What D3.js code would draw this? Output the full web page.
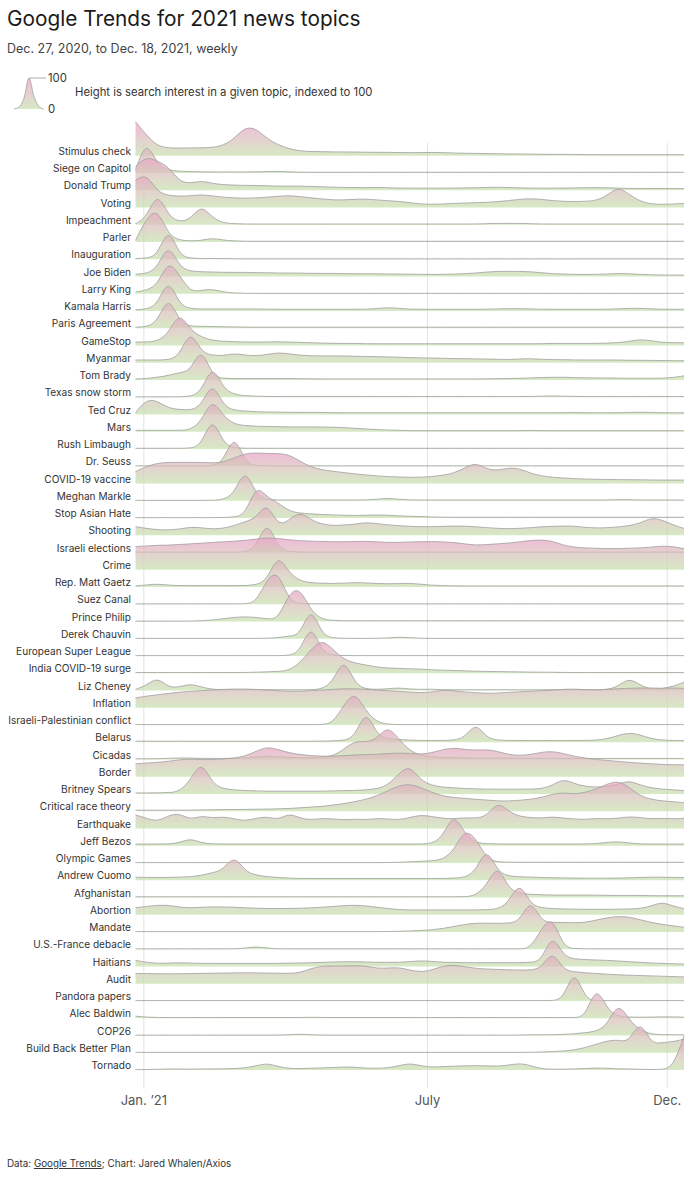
<!DOCTYPE html>
<html><head><meta charset="utf-8">
<script src="https://cdn.jsdelivr.net/npm/d3@7"></script>
<style>
body{margin:0;background:#fff;font-family:Inter,"Noto Sans",sans-serif;}
svg text{font-family:Inter,"Noto Sans",sans-serif;}
</style>
</head><body>
<svg id="chart" width="700" height="1182"></svg>
<script>
// ---------------- DATA ----------------
const topics = ["Stimulus check","Siege on Capitol","Donald Trump","Voting","Impeachment","Parler","Inauguration","Joe Biden","Larry King","Kamala Harris","Paris Agreement","GameStop","Myanmar","Tom Brady","Texas snow storm","Ted Cruz","Mars","Rush Limbaugh","Dr. Seuss","COVID-19 vaccine","Meghan Markle","Stop Asian Hate","Shooting","Israeli elections","Crime","Rep. Matt Gaetz","Suez Canal","Prince Philip","Derek Chauvin","European Super League","India COVID-19 surge","Liz Cheney","Inflation","Israeli-Palestinian conflict","Belarus","Cicadas","Border","Britney Spears","Critical race theory","Earthquake","Jeff Bezos","Olympic Games","Andrew Cuomo","Afghanistan","Abortion","Mandate","U.S.-France debacle","Haitians","Audit","Pandora papers","Alec Baldwin","COP26","Build Back Better Plan","Tornado"];

// weekly search interest, 51 weeks from Dec. 27, 2020
const stimulusCheck = [100,60,28,23,22,23,23,24,30,50, 85,80,50,32,20,14,12,12,11,11, 11,10,10,10,9,9,9,10,9,8, 7,7,6,6,5,5,5,4,4,4, 4,3,3,3,3,3,3,3,3,3,3];
const siegeOnCapitol = [8,100,22,8,5,4,3,3,3,3, 3,3,4,5,3,2,2,2,2,2, 2,2,2,2,2,2,2,2,2,2, 2,2,2,2,2,2,2,2,2,2, 2,2,2,2,2,2,2,2,2,2,2];
const donaldTrump = [70,100,85,70,25,20,28,20,16,15, 14,14,13,12,12,12,11,10,9,8, 8,7,9,7,6,6,6,6,6,6, 7,7,8,9,8,7,6,6,6,6, 7,7,8,7,6,5,5,5,5,5,5];
const voting = [80,100,45,35,33,34,38,34,30,28, 27,28,30,33,35,32,28,25,22,22, 24,25,22,20,18,14,10,9,10,12, 13,14,15,17,20,24,26,24,20,18, 17,18,20,35,62,38,18,10,9,10,12];
const impeachment = [3,20,100,25,8,15,60,20,5,3, 2,2,2,2,2,2,2,2,2,2, 2,2,2,2,2,2,2,2,2,2, 2,2,3,4,4,4,3,2,2,2, 2,2,2,2,2,2,2,2,2,2,2];
const parler = [5,70,100,20,5,3,4,12,5,3, 2,2,2,2,2,2,2,2,2,2, 2,2,2,2,2,2,2,2,2,2, 2,2,2,2,2,2,2,2,2,2, 2,2,2,2,2,2,2,2,2,2,2];
const inauguration = [2,3,10,100,10,3,2,2,2,1, 1,1,1,1,1,1,1,1,1,1, 1,1,1,1,1,1,1,1,1,1, 1,1,1,1,1,1,1,1,1,1, 1,1,1,1,1,1,1,1,1,1,1];
const joeBiden = [7,8,25,100,28,15,14,13,12,12, 12,11,11,10,10,10,9,9,9,8, 8,8,8,7,7,7,6,6,6,7, 8,10,13,15,15,15,14,11,8,7, 6,6,6,7,9,8,6,5,4,4,4];
const larryKing = [5,10,25,100,55,5,10,14,5,2, 1,1,1,1,1,1,1,1,1,1, 1,1,1,1,1,1,1,1,1,1, 1,1,1,1,1,1,1,1,1,1, 1,1,1,1,1,1,1,1,1,1,1];
const kamalaHarris = [4,5,18,100,18,6,6,6,6,6, 6,6,5,5,5,5,5,5,5,5, 5,5,7,10,8,5,5,5,5,5, 5,5,5,6,7,7,6,5,5,5, 5,5,5,5,6,8,8,6,5,5,5];
const parisAgreement = [3,4,18,100,18,5,6,5,4,4, 3,3,3,3,3,3,3,3,3,3, 3,3,3,3,3,3,3,3,3,3, 3,3,3,3,3,3,3,3,3,3, 3,3,3,3,3,3,3,3,3,3,3];
const gameStop = [10,10,12,35,100,45,25,15,12,11, 10,10,10,11,10,9,8,7,6,6, 6,5,5,5,5,5,5,5,5,5, 5,5,5,5,5,5,5,5,6,6, 6,6,6,7,8,12,18,14,9,8,8];
const myanmar = [8,8,8,8,20,100,30,22,20,28, 22,20,24,30,26,22,20,20,20,20, 19,18,18,17,16,15,14,14,13,12, 12,11,11,10,9,11,12,10,9,9, 8,8,8,8,8,7,7,7,6,6,6];
const tomBrady = [3,4,8,13,22,25,100,10,5,4, 4,4,4,4,4,4,3,3,3,3, 3,3,3,3,3,3,3,3,3,3, 3,3,3,4,4,5,6,7,8,8, 7,6,6,6,5,5,5,5,5,7,12];
const texasSnowStorm = [1,1,1,1,1,2,15,100,25,8, 4,3,2,2,2,2,2,2,2,2, 2,2,2,2,2,2,2,2,2,2, 2,2,2,2,2,2,2,3,4,3, 2,2,2,2,2,2,2,2,2,2,2];
const tedCruz = [5,45,40,18,15,12,25,100,25,12, 10,8,7,7,6,6,6,6,5,5, 5,5,5,5,5,5,5,5,5,5, 5,5,5,5,5,5,5,5,5,5, 6,5,5,5,5,6,7,6,5,5,5];
const mars = [4,4,4,4,4,5,30,100,45,22, 18,16,15,15,14,14,14,14,13,12, 10,8,6,5,4,3,3,3,3,3, 3,3,3,3,3,3,4,3,3,3, 3,3,3,3,3,3,3,3,3,3,3];
const rushLimbaugh = [2,2,2,2,2,2,10,100,15,3, 2,2,2,2,2,2,2,2,2,2, 2,2,2,2,2,2,2,2,2,2, 2,2,2,2,2,2,2,2,2,2, 2,2,2,2,2,2,2,2,2,2,2];
const drSeuss = [1,1,1,1,1,1,1,1,12,100, 8,2,1,1,1,1,1,1,1,1, 1,1,1,1,1,1,1,1,1,1, 1,1,1,1,1,1,1,1,1,1, 1,1,1,1,1,1,1,1,1,1,1];
const covidVaccine = [35,50,60,62,62,62,62,60,62,75, 88,90,88,88,85,65,48,40,36,32, 28,25,22,20,19,18,18,20,24,30, 45,62,42,38,46,44,30,22,18,16, 14,13,12,12,11,11,11,10,10,10,10];
const meghanMarkle = [1,1,1,1,1,1,1,1,3,20, 100,15,3,2,2,2,2,2,2,2, 2,2,4,8,4,2,2,2,2,2, 2,2,2,2,2,2,2,2,2,2, 2,2,2,2,3,3,2,2,2,2,2];
const stopAsianHate = [1,1,1,1,1,1,1,1,1,3, 8,100,60,45,20,14,12,10,9,8, 7,8,9,8,6,5,4,3,2,2, 2,2,2,2,2,2,2,2,2,2, 2,2,2,2,2,2,2,2,2,2,2];
const shooting = [25,20,16,15,18,24,22,18,20,28, 40,50,100,25,45,70,45,32,28,30, 32,38,34,30,28,26,25,25,26,27, 27,25,22,20,19,20,22,25,26,27, 27,23,21,22,24,28,35,52,45,30,20];
const israeliElections = [1,1,1,1,1,1,1,1,1,1, 1,15,100,12,3,1,1,1,1,1, 1,1,1,1,1,1,1,1,1,1, 1,1,1,1,1,1,1,1,1,1, 1,1,1,1,1,1,1,1,1,1,1];
const crime = [68,70,72,72,74,76,78,80,82,84, 86,90,94,92,88,85,84,83,82,82, 83,84,82,80,80,82,82,83,82,80, 76,72,74,76,78,82,86,88,84,72, 66,64,63,62,62,63,64,66,70,68,62];
const mattGaetz = [3,6,9,5,4,4,4,4,4,4, 4,6,20,100,40,18,12,11,10,11, 13,12,10,9,10,11,8,5,4,3, 3,3,3,3,3,3,3,3,3,3, 3,3,3,3,3,3,3,3,3,3,3];
const suezCanal = [1,1,1,1,1,1,1,1,1,1, 1,5,75,100,8,2,1,1,1,1, 1,1,1,1,1,1,1,1,1,1, 1,1,1,1,1,1,1,1,1,1, 1,1,1,1,1,1,1,1,1,1,1];
const princePhilip = [1,1,1,1,1,1,2,4,8,12, 14,12,8,5,85,100,30,6,3,2, 2,2,2,2,2,2,2,2,2,2, 2,2,2,2,2,2,2,2,2,2, 2,2,2,2,2,2,2,2,2,2,2];
const derekChauvin = [1,1,1,1,1,1,1,1,1,1, 1,1,1,3,8,10,100,10,2,1, 1,1,1,2,5,3,1,1,1,1, 1,1,1,1,1,1,1,1,1,1, 1,1,1,1,1,1,1,1,1,1,1];
const superLeague = [1,1,1,1,1,1,1,1,1,1, 1,1,1,1,1,12,100,10,2,1, 1,1,1,1,1,1,1,1,1,1, 1,1,1,1,1,1,1,1,1,1, 1,1,1,1,1,1,1,1,1,1,1];
const indiaSurge = [2,2,2,2,2,2,2,2,2,2, 2,3,4,5,8,30,70,100,70,40, 30,24,18,15,14,13,12,10,9,8, 7,6,5,5,4,4,3,3,3,2, 2,2,2,2,2,2,2,2,2,2,2];
const lizCheney = [3,15,40,8,10,20,10,3,2,2, 2,2,2,2,2,2,2,4,25,100, 18,4,3,5,8,4,3,4,2,2, 2,2,2,2,2,2,2,2,2,2, 2,2,2,2,12,38,15,3,5,12,24];
const inflation = [29,34,38,42,46,48,50,52,54,55, 55,54,52,50,48,48,50,52,54,56, 56,54,52,50,48,46,44,46,52,50, 46,44,42,43,45,47,48,50,52,54, 55,53,52,54,56,57,58,58,57,58,57];
const israeliPalestinian = [1,1,1,1,1,1,1,1,1,1, 1,1,1,1,1,1,1,1,5,60, 100,40,8,2,1,1,1,1,1,1, 1,1,1,1,1,1,1,1,1,1, 1,1,1,1,1,1,1,1,1,1,1];
const belarus = [3,3,3,3,3,3,3,3,3,3, 3,3,3,3,3,3,3,3,4,5, 15,100,20,10,8,6,5,5,5,6, 12,60,12,6,5,5,5,5,5,5, 5,5,6,10,20,28,22,10,6,5,5];
const cicadas = [2,2,2,3,5,4,3,3,3,3, 4,8,10,8,6,5,5,6,10,30, 55,50,60,100,60,25,12,8,6,5, 5,4,4,4,4,4,3,3,3,3, 3,3,3,3,3,3,3,3,3,3,3];
const border = [38,40,42,45,50,52,50,50,52,55, 60,75,88,80,70,65,62,60,60,62, 64,65,66,68,70,68,66,70,80,85, 80,78,80,75,65,62,65,72,75,68, 60,55,50,48,45,42,40,38,36,35,35];
const britneySpears = [3,3,3,4,6,40,100,30,15,12, 10,9,8,8,8,8,8,8,9,10, 10,12,15,25,60,85,40,25,20,18, 16,15,14,14,14,14,14,15,25,45, 30,22,20,22,28,40,26,18,14,12,10];
const criticalRaceTheory = [3,3,3,3,3,3,4,4,5,5, 5,6,6,7,8,10,12,14,18,22, 28,35,45,60,75,80,70,55,45,40, 38,35,33,30,30,32,35,40,50,55, 50,55,65,80,90,70,45,35,30,28,25];
const earthquake = [40,30,20,38,45,25,38,30,35,28, 22,30,35,25,45,30,25,30,28,25, 28,25,30,28,25,32,40,35,30,28, 32,30,35,80,50,35,32,30,35,30, 28,26,30,28,30,35,32,28,30,28,30];
const jeffBezos = [5,5,5,5,8,22,8,5,5,5, 5,5,5,5,5,5,5,5,5,5, 5,5,5,5,5,5,5,6,25,100, 35,8,6,5,5,5,5,5,5,5, 5,5,6,10,12,8,5,5,5,5,5];
const olympicGames = [1,1,1,1,1,1,1,1,1,1, 1,1,1,1,1,1,1,1,1,1, 1,1,1,1,2,3,5,6,10,35, 100,75,12,3,2,2,2,2,2,2, 2,2,2,2,2,2,2,2,2,2,2];
const andrewCuomo = [9,8,8,8,9,10,14,22,30,75, 25,15,10,8,6,5,5,5,5,5, 5,5,5,5,5,5,5,5,5,6, 8,25,100,25,12,10,9,8,7,7, 6,6,6,6,6,7,8,9,9,8,8];
const afghanistan = [2,2,2,2,2,2,2,2,2,2, 2,2,2,2,2,2,2,2,2,2, 2,2,2,2,2,2,2,2,2,2, 2,5,35,100,25,12,9,8,7,7, 7,7,7,6,6,6,6,5,5,5,5];
const abortion = [21,24,28,28,22,20,22,23,23,22, 20,19,18,18,18,19,20,22,24,27, 28,26,22,18,15,14,14,14,14,14, 14,14,15,16,35,100,30,20,18,17, 16,16,16,16,16,17,18,25,38,25,18];
const mandate = [1,1,1,1,1,1,1,1,1,1, 1,1,1,1,1,1,1,1,1,1, 1,1,1,1,2,3,4,6,10,16, 22,26,26,25,26,30,100,30,28,28, 27,28,35,42,46,44,36,28,22,18,14];
const usFrance = [1,1,1,1,1,1,1,1,1,1, 3,8,3,1,1,1,1,1,1,1, 1,1,1,1,1,1,1,1,1,1, 1,1,1,1,1,1,2,60,100,5, 2,1,1,1,1,1,1,1,1,1,1];
const haitians = [18,12,9,10,11,10,9,9,9,9, 9,9,9,9,10,10,11,12,13,14, 14,13,12,12,12,14,17,15,12,12, 11,11,11,11,11,11,12,15,100,30, 22,20,19,18,16,14,12,10,9,8,7];
const audit = [30,30,29,29,29,30,30,31,31,32, 32,32,31,31,30,32,45,52,52,52, 53,52,45,46,48,40,34,40,52,55, 50,45,43,42,41,40,40,45,100,40, 35,32,30,28,26,25,24,23,22,21,20];
const pandoraPapers = [1,1,1,1,1,1,1,1,1,1, 1,1,1,1,1,1,1,1,1,1, 1,1,1,1,1,1,1,1,1,1, 1,1,1,1,1,1,1,1,1,5, 100,3,1,1,1,1,1,1,1,1,1];
const alecBaldwin = [6,3,2,2,2,2,2,2,2,2, 2,2,2,2,2,2,3,2,2,2, 2,2,2,2,2,2,2,2,2,2, 2,2,2,2,2,2,2,2,2,2, 2,3,100,25,5,3,3,3,4,4,3];
const cop26 = [1,1,1,1,1,1,1,1,1,1, 1,1,1,1,2,4,2,1,1,1, 1,1,1,1,1,1,1,1,1,1, 1,1,1,1,1,1,2,2,2,3, 5,8,12,30,100,45,15,4,2,2,2];
const buildBackBetter = [1,1,1,1,1,1,1,1,1,1, 1,1,1,1,1,1,1,1,1,1, 1,1,1,1,1,1,1,1,1,1, 1,1,1,1,1,1,1,2,3,5, 8,15,25,35,38,30,100,25,30,32,40];
const tornado = [1,1,2,3,3,2,3,3,3,4, 6,12,20,10,4,4,5,6,7,9, 8,5,5,6,12,20,12,8,10,11, 12,13,12,11,14,20,13,3,2,2, 3,4,6,5,3,3,2,1,1,8,100];

const series = [stimulusCheck,siegeOnCapitol,donaldTrump,voting,impeachment,parler,inauguration,joeBiden,larryKing,kamalaHarris,parisAgreement,gameStop,myanmar,tomBrady,texasSnowStorm,tedCruz,mars,rushLimbaugh,drSeuss,covidVaccine,meghanMarkle,stopAsianHate,shooting,israeliElections,crime,mattGaetz,suezCanal,princePhilip,derekChauvin,superLeague,indiaSurge,lizCheney,inflation,israeliPalestinian,belarus,cicadas,border,britneySpears,criticalRaceTheory,earthquake,jeffBezos,olympicGames,andrewCuomo,afghanistan,abortion,mandate,usFrance,haitians,audit,pandoraPapers,alecBaldwin,cop26,buildBackBetter,tornado];

const firstWeek = new Date(2020, 11, 27);
const weeks = stimulusCheck.map((_, i) => d3.timeDay.offset(firstWeek, 7 * i));
const tickDates = [new Date(2021, 0, 1), new Date(2021, 6, 1), new Date(2021, 11, 1)];
const tickLabels = ["Jan. \u201921", "July", "Dec."];
const legendValues = [0, 6, 35, 100, 40, 8, 0];

// ---------------- CHART ----------------
const GREEN = "#c6e1ad", PINK = "#ee9ccb";
const svg = d3.select("#chart");
const x = d3.scaleTime().domain([weeks[0], weeks[weeks.length - 1]]).range([135.5, 684]);
const row = d3.scalePoint().domain(topics).range([155.7, 155.7 + 17.25 * (topics.length - 1)]);
const h = d3.scaleLinear().domain([0, 100]).range([0, -34]);

const defs = svg.append("defs");
const grad = defs.append("linearGradient").attr("id", "ridgeGrad")
  .attr("gradientUnits", "userSpaceOnUse").attr("x1", 0).attr("x2", 0).attr("y1", 0).attr("y2", h(100));
grad.append("stop").attr("offset", 0).attr("stop-color", GREEN);
grad.append("stop").attr("offset", 1).attr("stop-color", PINK);

// Title
svg.append("text").attr("x", 7).attr("y", 26).attr("font-size", 20.8).attr("fill", "#1a1a1a")
  .text("Google Trends for 2021 news topics");
svg.append("text").attr("x", 7).attr("y", 52.5).attr("font-size", 12.5).attr("fill", "#444")
  .text("Dec. 27, 2020, to Dec. 18, 2021, weekly");

// Legend
const lx = d3.scaleLinear().domain([0, legendValues.length - 1]).range([14, 44]);
const lh = d3.scaleLinear().domain([0, 100]).range([109, 78]);
const lgGrad = defs.append("linearGradient").attr("id", "legGrad")
  .attr("gradientUnits", "userSpaceOnUse").attr("x1", 0).attr("x2", 0).attr("y1", 109).attr("y2", 78);
lgGrad.append("stop").attr("offset", 0).attr("stop-color", GREEN);
lgGrad.append("stop").attr("offset", 1).attr("stop-color", PINK);
svg.append("path").datum(legendValues)
  .attr("d", d3.area().x((d, i) => lx(i)).y0(109).y1(d => lh(d)).curve(d3.curveMonotoneX))
  .attr("fill", "url(#legGrad)").attr("fill-opacity", 0.72);
svg.append("path").datum(legendValues)
  .attr("d", d3.line().x((d, i) => lx(i)).y(d => lh(d)).curve(d3.curveMonotoneX))
  .attr("fill", "none").attr("stroke", "#a5a5a5").attr("stroke-width", 0.8);
svg.append("line").attr("x1", lx(3)).attr("x2", 46).attr("y1", lh(100)).attr("y2", lh(100))
  .attr("stroke", "#999").attr("stroke-width", 0.8);
svg.append("text").attr("x", 48).attr("y", lh(100) + 4).attr("font-size", 11.3).attr("fill", "#333").text("100");
svg.append("text").attr("x", 48).attr("y", lh(0) + 4).attr("font-size", 11.3).attr("fill", "#333").text("0");
svg.append("text").attr("x", 75).attr("y", 95.5).attr("font-size", 11.3).attr("fill", "#333")
  .text("Height is search interest in a given topic, indexed to 100");

// Grid lines via axis
const gridTop = 143, gridBottom = 1088;
const gridAxis = d3.axisBottom(x).tickValues(tickDates).tickSize(-(gridBottom - gridTop)).tickFormat("");
const gGrid = svg.append("g").attr("transform", `translate(0,${gridBottom})`).call(gridAxis);
gGrid.select(".domain").remove();
gGrid.selectAll("line").attr("stroke", "#e3e3e3").attr("stroke-width", 1);

// Ridges
const area = d3.area().x((d, i) => x(weeks[i])).y0(0).y1(d => h(d)).curve(d3.curveBasis);
const line = d3.line().x((d, i) => x(weeks[i])).y(d => h(d)).curve(d3.curveBasis);
const rows = svg.append("g").selectAll("g").data(topics).join("g")
  .attr("transform", d => `translate(0,${row(d)})`);
rows.append("path").attr("d", (d, i) => area(series[i]))
  .attr("fill", "url(#ridgeGrad)").attr("fill-opacity", 0.72);
rows.append("path").attr("d", (d, i) => line(series[i]))
  .attr("fill", "none").attr("stroke", "#a0a0a0").attr("stroke-width", 0.8);
rows.append("text").attr("x", 131).attr("y", -0.8).attr("text-anchor", "end")
  .attr("font-size", 10.1).attr("fill", "#333").text(d => d);

// X axis labels
const xAxis = d3.axisBottom(x).tickValues(tickDates).tickSize(0).tickPadding(0)
  .tickFormat((d, i) => tickLabels[i]);
const gX = svg.append("g").attr("transform", "translate(0,1096)").call(xAxis);
gX.select(".domain").remove();
gX.selectAll("text").attr("font-size", 13).attr("fill", "#555").attr("font-family", "Inter,'Noto Sans',sans-serif");

// Footer
const foot = svg.append("text").attr("x", 7).attr("y", 1167).attr("font-size", 9.8).attr("fill", "#333");
foot.append("tspan").text("Data: ");
foot.append("tspan").attr("text-decoration", "underline").text("Google Trends");
foot.append("tspan").text("; Chart: Jared Whalen/Axios");
</script>
</body></html>
